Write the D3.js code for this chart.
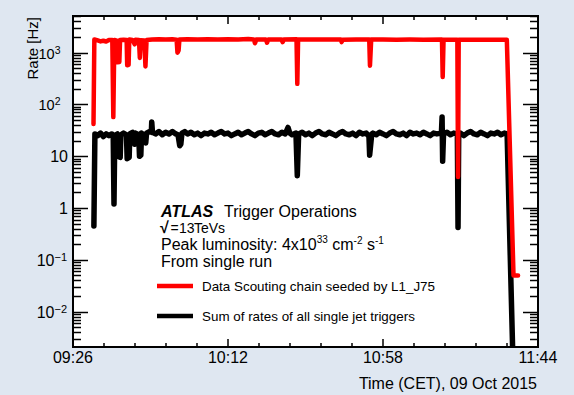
<!DOCTYPE html>
<html>
<head>
<meta charset="utf-8">
<script src="https://cdn.jsdelivr.net/npm/d3@7"></script>
<style>
  body { margin: 0; background: #dfe7f1; }
  svg { display: block; font-family: "Liberation Sans", Arial, sans-serif; }
</style>
</head>
<body>
<script>
// x tick labels (major ticks), y decade labels
var xTickLabels = ["09:26", "10:12", "10:58", "11:44"];
var yTickLabels = ["10^\u22122", "10^\u22121", "1", "10", "10^2", "10^3"];
var yTickValues = [0.01, 0.1, 1, 10, 100, 1000];

// Data Scouting chain seeded by L1_J75  [time, rate Hz]
var redSeries = [
  ["09:32:05", 42], ["09:32:20", 1800], ["09:33:20", 1720], ["09:34:10", 1650],
  ["09:35:00", 1700], ["09:35:50", 1640], ["09:36:40", 1750], ["09:37:40", 1760],
  ["09:37:58", 57], ["09:38:16", 1760], ["09:39:00", 1700], ["09:39:12", 650],
  ["09:39:45", 660], ["09:39:58", 1760], ["09:41:00", 1780], ["09:41:55", 1750],
  ["09:42:05", 570], ["09:42:30", 580], ["09:42:42", 1800], ["09:43:40", 1760],
  ["09:44:18", 1450], ["09:44:32", 1780], ["09:45:35", 1750], ["09:45:50", 790],
  ["09:46:05", 1740], ["09:47:10", 1720], ["09:47:30", 540], ["09:47:50", 1760],
  ["09:49:30", 1800], ["09:51:30", 1820], ["09:53:30", 1800], ["09:55:30", 1810],
  ["09:56:45", 1780], ["09:57:00", 1000], ["09:57:20", 1100], ["09:57:35", 1800],
  ["10:00:00", 1820], ["10:03:00", 1800], ["10:06:00", 1810], ["10:09:00", 1800],
  ["10:12:00", 1820], ["10:15:00", 1800], ["10:18:00", 1830], ["10:19:40", 1800],
  ["10:20:00", 1520], ["10:20:25", 1800], ["10:23:15", 1790], ["10:23:35", 1560],
  ["10:23:55", 1800], ["10:27:50", 1790], ["10:28:14", 1600], ["10:28:35", 1800],
  ["10:32:20", 1810], ["10:32:34", 250], ["10:32:48", 1800], ["10:36:00", 1800],
  ["10:40:00", 1790], ["10:45:30", 1800], ["10:45:44", 1600], ["10:46:00", 1780],
  ["10:50:00", 1790], ["10:53:55", 1800], ["10:54:08", 560], ["10:54:30", 1800],
  ["10:58:00", 1790], ["11:02:00", 1780], ["11:06:00", 1790], ["11:10:00", 1780],
  ["11:15:30", 1790], ["11:15:43", 340], ["11:15:58", 1780], ["11:20:04", 1780],
  ["11:20:16", 4], ["11:20:28", 1780], ["11:25:00", 1770], ["11:30:00", 1780],
  ["11:34:45", 1770], ["11:36:44", 0.05], ["11:38:05", 0.05]
];

// Sum of rates of all single jet triggers  [time, rate Hz]
var blackSeries = [
  ["09:32:12", 0.45], ["09:32:30", 27], ["09:33:20", 25], ["09:34:10", 28],
  ["09:35:00", 24], ["09:35:50", 27], ["09:36:40", 25], ["09:37:30", 27],
  ["09:37:56", 26], ["09:38:10", 1.2], ["09:38:24", 25], ["09:39:10", 27],
  ["09:39:22", 10], ["09:40:00", 9.5], ["09:40:12", 26], ["09:41:00", 28],
  ["09:41:52", 26], ["09:42:04", 9], ["09:42:40", 9.5], ["09:42:52", 27],
  ["09:43:40", 29], ["09:44:18", 17], ["09:44:32", 28], ["09:45:30", 26],
  ["09:45:44", 10], ["09:46:08", 10.5], ["09:46:20", 28], ["09:47:20", 25],
  ["09:47:35", 18], ["09:47:50", 28], ["09:48:40", 30], ["09:49:15", 29],
  ["09:49:22", 46], ["09:49:35", 29], ["09:50:30", 27], ["09:51:30", 30],
  ["09:52:30", 26], ["09:53:30", 29], ["09:54:30", 27], ["09:55:30", 30],
  ["09:56:30", 27], ["09:57:10", 26], ["09:57:40", 16], ["09:58:00", 17],
  ["09:58:20", 28], ["09:59:10", 30], ["10:00", 27], ["10:01", 29], ["10:02", 26],
  ["10:03", 28], ["10:04", 25], ["10:05", 28], ["10:06", 27], ["10:07", 29],
  ["10:08", 26], ["10:09", 28], ["10:10", 30], ["10:11", 27], ["10:12", 28],
  ["10:13", 25], ["10:14", 27], ["10:15", 29], ["10:16", 26], ["10:17", 28],
  ["10:18", 30], ["10:19", 27], ["10:20", 25], ["10:21", 28], ["10:22", 29],
  ["10:23", 26], ["10:24", 28], ["10:25", 30], ["10:26", 27], ["10:27", 26],
  ["10:28", 29], ["10:29", 27], ["10:29:48", 36], ["10:30:20", 28], ["10:31", 26],
  ["10:32:10", 28], ["10:32:34", 4.2], ["10:32:58", 27], ["10:34", 29], ["10:35", 26],
  ["10:36", 28], ["10:37", 25], ["10:38", 28], ["10:39", 30], ["10:40", 27],
  ["10:41", 26], ["10:42", 29], ["10:43", 27], ["10:44", 25], ["10:45", 28],
  ["10:46", 30], ["10:47", 27], ["10:48", 26], ["10:49", 28], ["10:50", 25],
  ["10:51", 29], ["10:52", 27], ["10:53", 28], ["10:53:50", 24], ["10:54:02", 10.5],
  ["10:54:40", 27], ["10:55", 28], ["10:56", 26], ["10:57", 29], ["10:58", 27],
  ["10:59", 25], ["11:00", 28], ["11:01", 30], ["11:02", 27], ["11:03", 26],
  ["11:04", 28], ["11:05", 25], ["11:06", 29], ["11:07", 27], ["11:08", 28],
  ["11:09", 26], ["11:10", 29], ["11:11", 27], ["11:12", 25], ["11:13", 28],
  ["11:14", 27], ["11:15:20", 28], ["11:15:32", 57], ["11:15:42", 8], ["11:15:58", 27],
  ["11:17", 29], ["11:18", 26], ["11:19", 28], ["11:20:04", 27], ["11:20:16", 0.42],
  ["11:20:28", 26], ["11:21", 28], ["11:22", 25], ["11:23", 28], ["11:24", 30],
  ["11:25", 27], ["11:26", 26], ["11:27", 29], ["11:28", 27], ["11:29", 25],
  ["11:30", 28], ["11:31", 27], ["11:32", 29], ["11:33", 26], ["11:34", 28],
  ["11:34:50", 27], ["11:36:35", 0.001]
];

var legendLabels = ["Data Scouting chain seeded by L1_J75", "Sum of rates of all single jet triggers"];
var seriesColors = ["#ff0000", "#000000"];

var width = 574, height = 395;
var plot = {left: 73, top: 16, right: 538, bottom: 347};

var parseFull = d3.timeParse("%H:%M:%S");
function parseTime(s) { return parseFull(s.length == 5 ? s + ":00" : s); }

var x = d3.scaleTime()
  .domain([parseTime(xTickLabels[0]), parseTime(xTickLabels[xTickLabels.length - 1])])
  .range([plot.left, plot.right]);

var y = d3.scaleLog()
  .domain([0.00208, 5100])
  .range([plot.bottom, plot.top]);

var svg = d3.select("body").append("svg")
  .attr("width", width)
  .attr("height", height);

svg.append("defs").append("clipPath").attr("id", "clip")
  .append("rect")
  .attr("x", plot.left).attr("y", plot.top)
  .attr("width", plot.right - plot.left).attr("height", plot.bottom - plot.top);

// white pad
svg.append("rect")
  .attr("x", plot.left).attr("y", plot.top)
  .attr("width", plot.right - plot.left).attr("height", plot.bottom - plot.top)
  .style("fill", "white");

var line = d3.line()
  .x(function(d) { return x(parseTime(d[0])); })
  .y(function(d) { return y(d[1]); });

var g = svg.append("g").attr("clip-path", "url(#clip)");

// black first, red drawn on top
g.append("path")
  .datum(blackSeries)
  .attr("d", line)
  .style("fill", "none")
  .style("stroke", seriesColors[1])
  .style("stroke-width", 5.5)
  .style("stroke-linejoin", "round")
  .style("stroke-linecap", "round");

g.append("path")
  .datum(redSeries)
  .attr("d", line)
  .style("fill", "none")
  .style("stroke", seriesColors[0])
  .style("stroke-width", 4.5)
  .style("stroke-linejoin", "round")
  .style("stroke-linecap", "round");

// ---- axes, ROOT style ticks on all four sides ----
var ticks = svg.append("g").style("stroke", "black").style("stroke-width", 1.5);

// y ticks
var yTicks = [];
for (var e = -3; e <= 3; e++) {
  for (var k = 1; k <= 9; k++) {
    var v = k * Math.pow(10, e);
    if (v >= y.domain()[0] && v <= y.domain()[1]) yTicks.push({v: v, major: k == 1});
  }
}
yTicks.forEach(function(t) {
  var len = t.major ? 15 : 8;
  var yy = Math.round(y(t.v)) + 0.5;
  ticks.append("line").attr("x1", plot.left).attr("x2", plot.left + len).attr("y1", yy).attr("y2", yy);
  ticks.append("line").attr("x1", plot.right).attr("x2", plot.right - len).attr("y1", yy).attr("y2", yy);
});

// x ticks: majors at labels, 5 divisions in between
var xTicks = [];
for (var i = 0; i < xTickLabels.length; i++) {
  var t0 = parseTime(xTickLabels[i]);
  xTicks.push({t: t0, major: true});
  if (i < xTickLabels.length - 1) {
    var t1 = parseTime(xTickLabels[i + 1]);
    for (var j = 1; j < 5; j++) {
      xTicks.push({t: new Date(+t0 + (t1 - t0) * j / 5), major: false});
    }
  }
}
xTicks.forEach(function(t) {
  var len = t.major ? 8 : 4;
  var xx = x(t.t);
  ticks.append("line").attr("x1", xx).attr("x2", xx).attr("y1", plot.bottom).attr("y2", plot.bottom - len);
  ticks.append("line").attr("x1", xx).attr("x2", xx).attr("y1", plot.top).attr("y2", plot.top + len);
});

// frame
svg.append("rect")
  .attr("x", plot.left).attr("y", plot.top)
  .attr("width", plot.right - plot.left).attr("height", plot.bottom - plot.top)
  .style("fill", "none")
  .style("stroke", "black")
  .style("stroke-width", 2);

// x tick labels
svg.append("g").selectAll("text")
  .data(xTickLabels)
  .enter().append("text")
  .attr("x", function(d) { return x(parseTime(d)); })
  .attr("y", 363)
  .attr("text-anchor", "middle")
  .style("font-size", "16px")
  .text(function(d) { return d; });

// y tick labels (10^2 and 10^3 sit further left and a bit smaller in the original)
var yLabelEnd = {"0.01": 67, "0.1": 67, "1": 68, "10": 68, "100": 60.5, "1000": 60.5};
yTickLabels.forEach(function(lab, i) {
  var parts = lab.split("^");
  var small = yTickValues[i] >= 100;
  var txt = svg.append("text")
    .attr("x", yLabelEnd[String(yTickValues[i])])
    .attr("y", y(yTickValues[i]) + 6)
    .attr("text-anchor", "end")
    .style("font-size", small ? "14.5px" : "16px");
  txt.append("tspan").text(parts[0]);
  if (parts.length > 1) {
    txt.append("tspan").attr("dy", -5).style("font-size", small ? "10.5px" : "11px").text(parts[1]);
  }
});

// axis titles
svg.append("text")
  .attr("transform", "translate(38,17) rotate(-90)")
  .attr("text-anchor", "end")
  .style("font-size", "15px")
  .text("Rate [Hz]");

svg.append("text")
  .attr("x", 537)
  .attr("y", 389)
  .attr("text-anchor", "end")
  .style("font-size", "16px")
  .text("Time (CET), 09 Oct 2015");

// ATLAS label block
var info = svg.append("g").style("font-size", "16px");
var t1 = info.append("text").attr("x", 161).attr("y", 216.5);
t1.append("tspan").style("font-weight", "bold").style("font-style", "italic").text("ATLAS");
t1.append("tspan").attr("x", 224).text("Trigger Operations");

var t2 = info.append("text").attr("y", 233).style("font-size", "14px");
t2.append("tspan").attr("x", 160).style("font-weight", "bold").style("font-size", "16px").text("\u221A");
t2.append("tspan").attr("x", 170.5).text("=");
t2.append("tspan").attr("x", 179).text("13");
t2.append("tspan").attr("x", 194).text("TeVs");

var t3 = info.append("text").attr("x", 161).attr("y", 250);
t3.append("tspan").text("Peak luminosity: 4x10");
t3.append("tspan").attr("dy", -7).style("font-size", "10px").text("33");
t3.append("tspan").attr("dy", 7).text(" cm");
t3.append("tspan").attr("dy", -6).style("font-size", "10px").text("-2");
t3.append("tspan").attr("dy", 6).text(" s");
t3.append("tspan").attr("dy", -6).style("font-size", "10px").text("-1");

info.append("text").attr("x", 161).attr("y", 266.5).text("From single run");

// legend
var legend = svg.append("g").selectAll("g")
  .data(legendLabels)
  .enter().append("g")
  .attr("transform", function(d, i) { return "translate(0," + (286 + i * 30) + ")"; });

legend.append("line")
  .attr("x1", 157).attr("x2", 193)
  .style("stroke", function(d, i) { return seriesColors[i]; })
  .style("stroke-width", 4.5);

legend.append("text")
  .attr("x", 202)
  .attr("y", 4.5)
  .style("font-size", "13.4px")
  .text(function(d) { return d; });
</script>
</body>
</html>
